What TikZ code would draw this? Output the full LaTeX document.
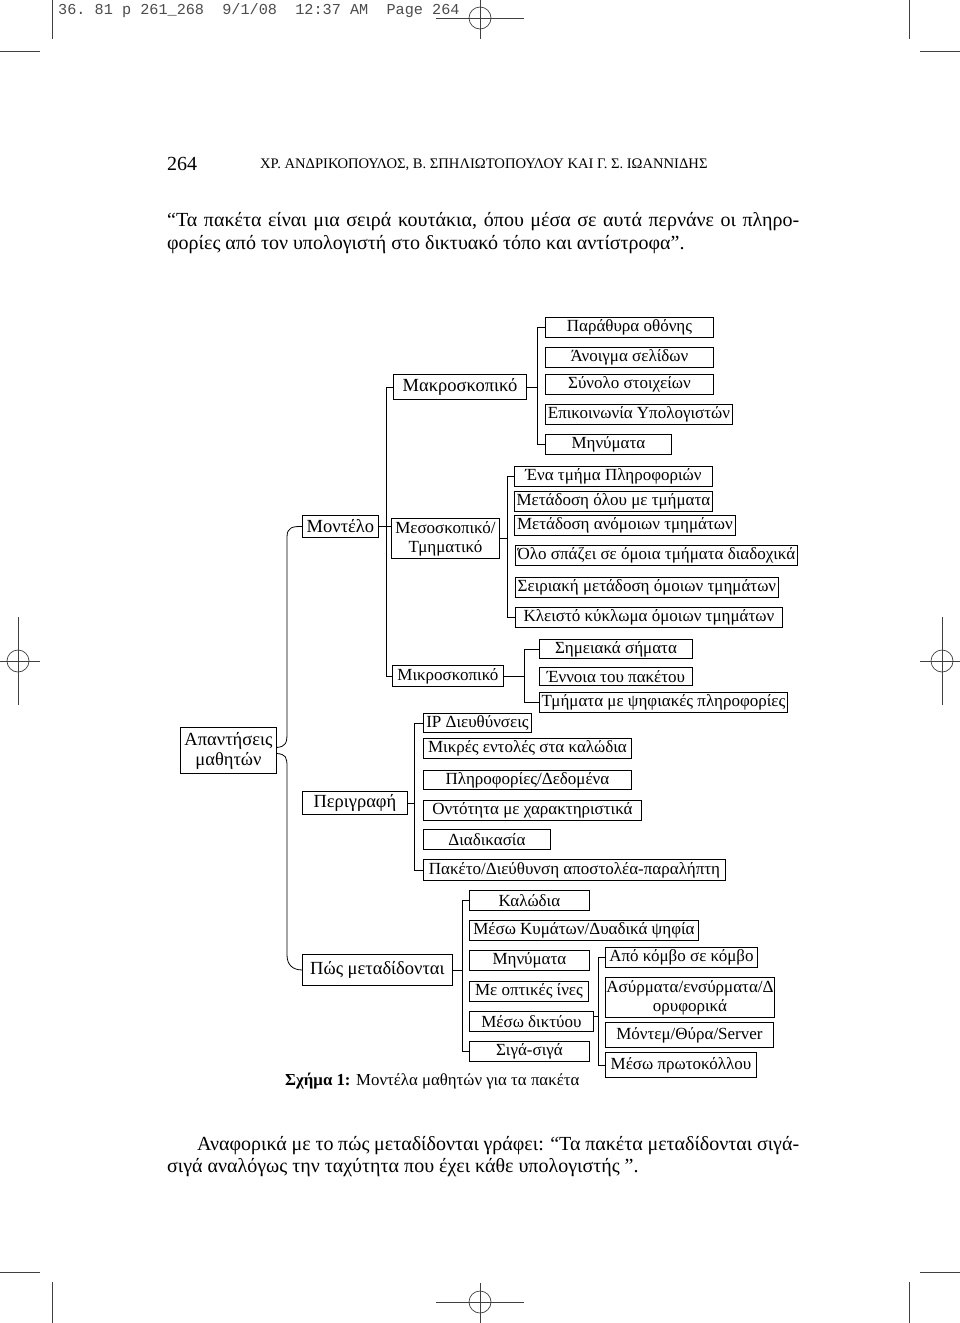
\documentclass[tikz,border=0pt]{standalone}
\usepackage{fontspec}
\setmainfont{Liberation Serif}
\setmonofont{Liberation Mono}
\begin{document}
\begin{tikzpicture}[x=1pt,y=-1pt,
  bx/.style={draw, line width=0.9pt, inner xsep=1pt, inner ysep=0pt, anchor=north west, align=center, font=\fontsize{17}{19}\selectfont},
  bxl/.style={bx, font=\fontsize{18.5}{20}\selectfont},
  conn/.style={line width=0.8pt},
  crop/.style={line width=0.7pt, draw=black!75},
  txt/.style={anchor=base west, inner sep=0pt, font=\fontsize{20}{23}\selectfont},
]
\useasboundingbox (0,0) rectangle (960,1323);
\fill[white] (0,0) rectangle (960,1323);

% crop marks
\draw[crop] (52,0) -- (52,39);
\draw[crop] (909,0) -- (909,39);
\draw[crop] (0,51) -- (40,51);
\draw[crop] (920,51) -- (960,51);
\draw[crop] (480,0) -- (480,39);
\draw[crop] (436,18) -- (524,18);
\draw[crop] (480,18) circle[radius=11pt];
\draw[crop] (18,617) -- (18,705);
\draw[crop] (0,661) -- (40,661);
\draw[crop] (18,661) circle[radius=11pt];
\draw[crop] (942,617) -- (942,705);
\draw[crop] (920,661) -- (960,661);
\draw[crop] (942,661) circle[radius=11pt];
\draw[crop] (0,1272) -- (40,1272);
\draw[crop] (920,1272) -- (960,1272);
\draw[crop] (52,1282) -- (52,1323);
\draw[crop] (909,1282) -- (909,1323);
\draw[crop] (480,1283) -- (480,1323);
\draw[crop] (436,1302) -- (524,1302);
\draw[crop] (480,1302) circle[radius=11pt];

% header texts
\node[anchor=base west, inner sep=0pt, text=black!70, font=\ttfamily\fontsize{15.2}{15}\selectfont] (slug) at (58,14) {36. 81 p 261\_268~~9/1/08~~12:37 AM~~Page 264};
\node[txt] (pnum) at (167,170) {264};
\node[anchor=base west, inner sep=0pt, font=\fontsize{14.6}{16}\selectfont] (rhead) at (260,168) {ΧΡ. ΑΝΔΡΙΚΟΠΟΥΛΟΣ, Β. ΣΠΗΛΙΩΤΟΠΟΥΛΟΥ ΚΑΙ Γ. Σ. ΙΩΑΝΝΙΔΗΣ};
\node[txt] (p1) at (167,226) {\makebox[632pt][s]{“Τα πακέτα είναι μια σειρά κουτάκια, όπου μέσα σε αυτά περνάνε οι πληρο-}};
\node[txt] (p2) at (167,249) {φορίες από τον υπολογιστή στο δικτυακό τόπο και αντίστροφα”.};

% level 0/1
\node[bxl, minimum width=96pt, minimum height=46pt] (root) at (180,727) {Απαντήσεις\\μαθητών};
\node[bxl, minimum width=76pt, minimum height=22pt] (montelo) at (302,515) {Μοντέλο};
\node[bxl, minimum width=105pt, minimum height=23pt] (perigrafi) at (302,791) {Περιγραφή};
\node[bxl, minimum width=150pt, minimum height=31pt] (pos) at (302,954) {Πώς μεταδίδονται};

% level 2
\node[bxl, minimum width=133pt, minimum height=25pt] (makro) at (393,374) {Μακροσκοπικό};
\node[bx, minimum width=108pt, minimum height=40pt] (meso) at (391,518) {Μεσοσκοπικό/\\Τμηματικό};
\node[bx, minimum width=111pt, minimum height=21pt] (mikro) at (392,665) {Μικροσκοπικό};

% makro children
\node[bx, minimum width=168pt, minimum height=20pt] (a1) at (545,317) {Παράθυρα οθόνης};
\node[bx, minimum width=168pt, minimum height=20pt] (a2) at (545,347) {Άνοιγμα σελίδων};
\node[bx, minimum width=168pt, minimum height=20pt] (a3) at (545,374) {Σύνολο στοιχείων};
\node[bx, minimum width=187pt, minimum height=20pt] (a4) at (545,404) {Επικοινωνία Υπολογιστών};
\node[bx, minimum width=126pt, minimum height=20pt] (a5) at (545,434) {Μηνύματα};

% meso children
\node[bx, minimum width=198pt, minimum height=20pt] (b1) at (514,466) {Ένα τμήμα Πληροφοριών};
\node[bx, minimum width=198pt, minimum height=20pt] (b2) at (514,491) {Μετάδοση όλου με τμήματα};
\node[bx, minimum width=221pt, minimum height=20pt] (b3) at (514,515) {Μετάδοση ανόμοιων τμημάτων};
\node[bx, minimum width=282pt, minimum height=20pt] (b4) at (515,545) {Όλο σπάζει σε όμοια τμήματα διαδοχικά};
\node[bx, minimum width=263pt, minimum height=20pt] (b5) at (515,577) {Σειριακή μετάδοση όμοιων τμημάτων};
\node[bx, minimum width=267pt, minimum height=20pt] (b6) at (515,607) {Κλειστό κύκλωμα όμοιων τμημάτων};

% mikro children
\node[bx, minimum width=153pt, minimum height=19pt] (c1) at (539,639) {Σημειακά σήματα};
\node[bx, minimum width=153pt, minimum height=18pt] (c2) at (539,667) {Έννοια του πακέτου};
\node[bx, minimum width=248pt, minimum height=20pt] (c3) at (539,692) {Τμήματα με ψηφιακές πληροφορίες};

% perigrafi children
\node[bx, minimum width=108pt, minimum height=19pt] (d1) at (423,713) {IP Διευθύνσεις};
\node[bx, minimum width=208pt, minimum height=20pt] (d2) at (423,738) {Μικρές εντολές στα καλώδια};
\node[bx, minimum width=208pt, minimum height=19pt] (d3) at (423,770) {Πληροφορίες/Δεδομένα};
\node[bx, minimum width=218pt, minimum height=20pt] (d4) at (423,800) {Οντότητα με χαρακτηριστικά};
\node[bx, minimum width=127pt, minimum height=20pt] (d5) at (423,829) {Διαδικασία};
\node[bx, minimum width=302pt, minimum height=21pt] (d6) at (423,859) {Πακέτο/Διεύθυνση αποστολέα-παραλήπτη};

% pos children
\node[bx, minimum width=120pt, minimum height=20pt] (e1) at (469,890) {Καλώδια};
\node[bx, minimum width=229pt, minimum height=20pt] (e2) at (469,920) {Μέσω Κυμάτων/Δυαδικά ψηφία};
\node[bx, minimum width=120pt, minimum height=20pt] (e3) at (469,950) {Μηνύματα};
\node[bx, minimum width=119pt, minimum height=20pt] (e4) at (469,981) {Με οπτικές ίνες};
\node[bx, minimum width=124pt, minimum height=20pt] (e5) at (469,1011) {Μέσω δικτύου};
\node[bx, minimum width=120pt, minimum height=20pt] (e6) at (469,1041) {Σιγά-σιγά};

% diktyo children
\node[bx, minimum width=152pt, minimum height=20pt] (f1) at (605,947) {Από κόμβο σε κόμβο};
\node[bx, minimum width=168pt, minimum height=40pt] (f2) at (605,977) {Ασύρματα/ενσύρματα/Δ\\ορυφορικά};
\node[bx, minimum width=168pt, minimum height=25pt] (f3) at (605,1022) {Μόντεμ/Θύρα/Server};
\node[bx, minimum width=151pt, minimum height=25pt] (f4) at (605,1052) {Μέσω πρωτοκόλλου};

% caption
\node[anchor=base west, inner sep=0pt, font=\fontsize{16.8}{19}\selectfont] (cap) at (285,1085) {\textbf{Σχήμα 1:} Μοντέλα μαθητών για τα πακέτα};

% bottom paragraph
\node[txt] (q1) at (197,1150) {\makebox[602pt][s]{Αναφορικά με το πώς μεταδίδονται γράφει: “Τα πακέτα μεταδίδονται σιγά-}};
\node[txt] (q2) at (167,1172) {σιγά αναλόγως την ταχύτητα που έχει κάθε υπολογιστής ”.};

% connectors: root brace
\draw[conn] ([yshift=3pt]root.east) .. controls +(9,-1) and +(0,10) .. (287,733) -- (287,537) .. controls +(0,-10) and +(-9,0) .. (montelo.west);
\draw[conn] ([yshift=-3pt]root.east) .. controls +(9,1) and +(0,-10) .. (287,767) -- (287,955) .. controls +(0,10) and +(-9,0) .. (pos.west);

% Montelo trunk
\draw[conn] (makro.west) -- ++(-7,0) coordinate (tm) |- (mikro.west);
\draw[conn] (montelo.east) -- (meso.west |- montelo.east);

% makro bracket
\draw[conn] (a1.west) -- ++(-8,0) coordinate (ta) |- (a5.west);
\draw[conn] (makro.east) -- (makro.east -| ta);
% meso bracket
\draw[conn] (b1.west) -- ++(-7,0) coordinate (tb) |- (b6.west);
\draw[conn] (meso.east) -- (meso.east -| tb);
% mikro bracket
\draw[conn] (c1.west) -- ++(-15,0) coordinate (tc) |- (c3.west);
\draw[conn] (mikro.east) -- (mikro.east -| tc);
% perigrafi bracket
\draw[conn] (d1.west) -- ++(-9,0) coordinate (td) |- (d6.west);
\draw[conn] (perigrafi.east) -- (perigrafi.east -| td);
% pos bracket
\draw[conn] (e1.west) -- ++(-7,0) coordinate (te) |- (e6.west);
\draw[conn] (pos.east) -- (pos.east -| te);
% diktyo bracket
\draw[conn] (f1.west) -- ++(-7,0) coordinate (tf) |- (f4.west);
\draw[conn] ([yshift=5pt]e5.east) -- ([yshift=5pt]e5.east -| tf);
\end{tikzpicture}
\end{document}
